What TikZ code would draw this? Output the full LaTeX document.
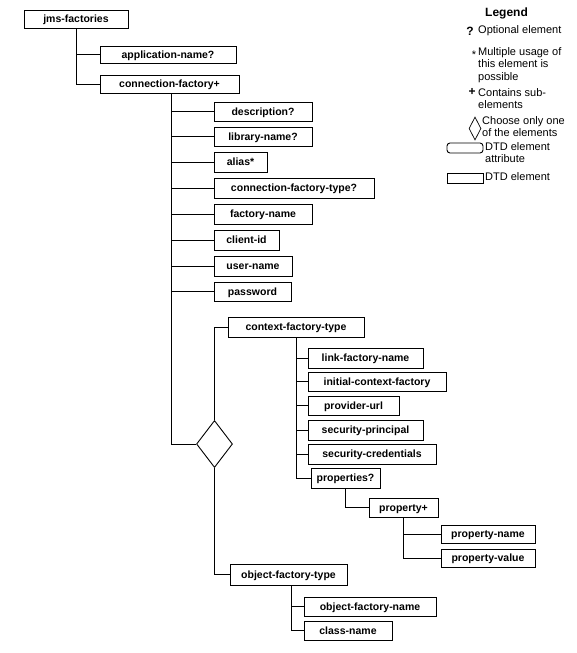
\documentclass[tikz,border=0pt]{standalone}
\usepackage{fontspec}
\setmainfont{Liberation Sans}
\usetikzlibrary{shapes.geometric}
\tikzset{
  box/.style={draw, line width=0.9pt, inner sep=0pt, text height=7.6pt, text depth=0pt, font=\bfseries\fontsize{10.5}{12}\selectfont},
  conn/.style={draw, line width=0.9pt},
  legtxt/.style={inner sep=0pt, anchor=west, align=left, font=\fontsize{11}{12.5}\selectfont},
  legsym/.style={inner sep=0pt, font=\bfseries\fontsize{12}{12}\selectfont},
  choice/.style={draw, line width=0.9pt, diamond, inner sep=0pt}
}
\newcommand\bx[6]{\node[box, minimum width=#4pt-#2pt, minimum height=#5pt-#3pt] (#1) at ({(#2+#4)/2},{(#3+#5)/2}) {#6};}
\begin{document}
\begin{tikzpicture}[x=1pt,y=-1pt]
\useasboundingbox (0,0) rectangle (576,653);
% boxes
\bx{jms}{24}{10}{128}{28}{jms-factories}
\bx{app}{100}{46}{236}{63}{application-name?}
\bx{cf}{100}{75}{239}{93}{connection-factory+}
\bx{desc}{214}{102}{312}{121}{description?}
\bx{lib}{214}{127}{312}{146}{library-name?}
\bx{alias}{214}{152}{267}{172}{alias*}
\bx{cft}{214}{178}{374}{198}{connection-factory-type?}
\bx{fname}{214}{204}{312}{224}{factory-name}
\bx{client}{214}{230}{279}{250}{client-id}
\bx{user}{214}{256}{292}{276}{user-name}
\bx{pass}{214}{282}{291}{301}{password}
\bx{ctx}{228}{317}{364}{337}{context-factory-type}
\bx{link}{308}{348}{423}{368}{link-factory-name}
\bx{initial}{308}{372}{446}{391}{initial-context-factory}
\bx{provider}{308}{396}{399}{415}{provider-url}
\bx{secp}{308}{420}{423}{440}{security-principal}
\bx{secc}{308}{444}{436}{464}{security-credentials}
\bx{props}{311}{468}{380}{488}{properties?}
\bx{propp}{369}{498}{438}{517}{property+}
\bx{pname}{441}{525}{535}{543}{property-name}
\bx{pvalue}{441}{549}{535}{567}{property-value}
\bx{obj}{230}{564}{347}{585}{object-factory-type}
\bx{objname}{304}{597}{436}{616}{object-factory-name}
\bx{class}{304}{621}{392}{640}{class-name}
\node[choice, minimum width=36pt, minimum height=47pt] (dia) at (214.5,444) {};
% connectors
\draw[conn] (jms.south) |- (app.west);
\draw[conn] (jms.south) |- (cf.west);
\coordinate (cfb) at ([xshift=2pt]cf.south);
\foreach \c in {desc,lib,alias,cft,fname,client,user,pass,dia}
  \draw[conn] (cfb) |- (\c.west);
\draw[conn] (dia.north) |- (ctx.west);
\draw[conn] (dia.south) |- (obj.west);
\foreach \c in {link,initial,provider,secp,secc,props}
  \draw[conn] (ctx.south) |- (\c.west);
\draw[conn] (props.south) |- (propp.west);
\draw[conn] (propp.south) |- (pname.west);
\draw[conn] (propp.south) |- (pvalue.west);
\coordinate (objb) at ([xshift=3pt]obj.south);
\draw[conn] (objb) |- (objname.west);
\draw[conn] (objb) |- (class.west);
% legend
\node[inner sep=0pt, anchor=west, font=\bfseries\fontsize{12}{12}\selectfont] (legtitle) at (485,13) {Legend};
\node[legsym] (symq) at (470,31) {?};
\node[legtxt] (legq) at (478,31) {Optional element};
\node[inner sep=0pt, font=\fontsize{11}{11}\selectfont] (syms) at (474,55) {*};
\node[legtxt] (legs) at (478,65) {Multiple usage of\\this element is\\possible};
\node[legsym] (symp) at (472,92) {+};
\node[legtxt] (legp) at (478,98.5) {Contains sub-\\elements};
\node[choice, line width=0.7pt, minimum width=12pt, minimum height=23pt] (ldia) at (475,128.5) {};
\node[legtxt] (legd) at (482,126.5) {Choose only one\\of the elements};
\draw[line width=0.9pt, rounded corners=3pt] (447,143) rectangle (483,153);
\node[legtxt] (lega) at (485,152.5) {DTD element\\attribute};
\draw[line width=0.9pt] (447,173) rectangle (483,183);
\node[legtxt] (lege) at (485,177) {DTD element};
\end{tikzpicture}
\end{document}
